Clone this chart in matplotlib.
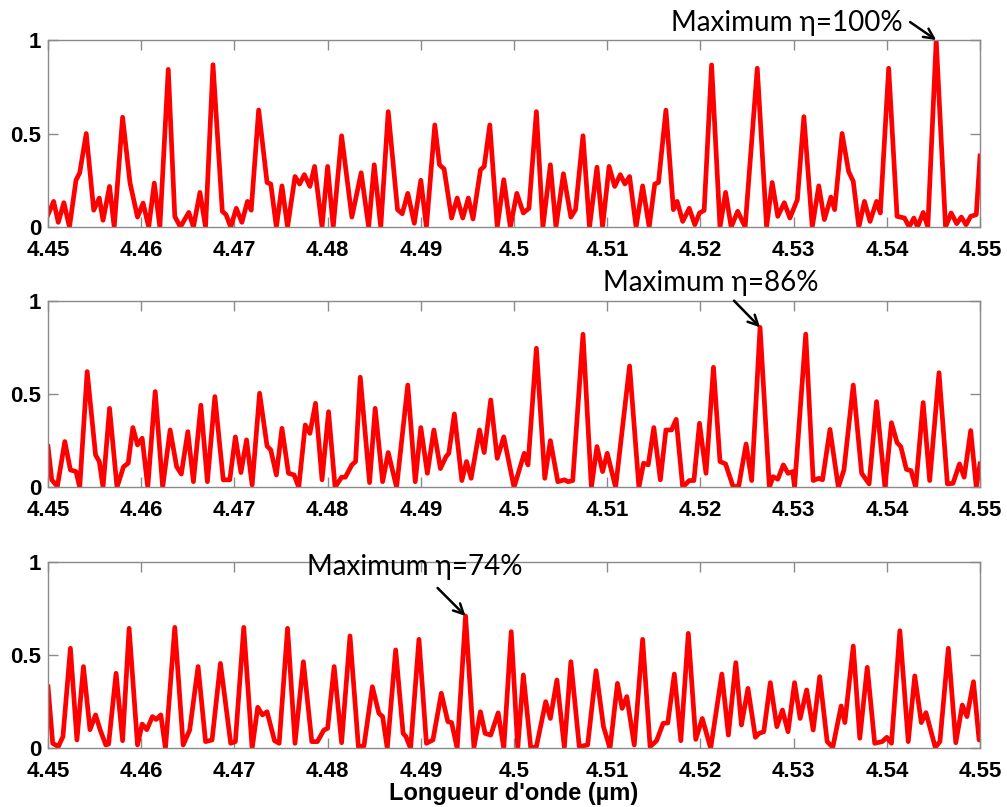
import matplotlib
matplotlib.use('Agg')
import matplotlib.pyplot as plt
import numpy as np

# wavelength (um) / efficiency
x1 = [4.4500, 4.4506, 4.4511, 4.4517, 4.4523, 4.4530, 4.4534, 4.4541, 4.4549, 4.4555,
      4.4559, 4.4566, 4.4571, 4.4580, 4.4588, 4.4596, 4.4602, 4.4608, 4.4614, 4.4620,
      4.4629, 4.4636, 4.4642, 4.4651, 4.4656, 4.4663, 4.4669, 4.4677, 4.4687, 4.4691,
      4.4696, 4.4702, 4.4708, 4.4714, 4.4718, 4.4726, 4.4735, 4.4739, 4.4745, 4.4751,
      4.4757, 4.4765, 4.4770, 4.4775, 4.4781, 4.4786, 4.4794, 4.4800, 4.4806, 4.4815,
      4.4826, 4.4836, 4.4844, 4.4850, 4.4857, 4.4865, 4.4875, 4.4880, 4.4886, 4.4893,
      4.4900, 4.4906, 4.4915, 4.4920, 4.4925, 4.4933, 4.4939, 4.4945, 4.4951, 4.4956,
      4.4964, 4.4968, 4.4974, 4.4982, 4.4989, 4.4996, 4.5003, 4.5010, 4.5016, 4.5024,
      4.5031, 4.5039, 4.5045, 4.5053, 4.5061, 4.5066, 4.5074, 4.5081, 4.5089, 4.5095,
      4.5102, 4.5108, 4.5114, 4.5119, 4.5124, 4.5131, 4.5138, 4.5145, 4.5151, 4.5155,
      4.5163, 4.5171, 4.5175, 4.5181, 4.5188, 4.5194, 4.5199, 4.5204, 4.5212, 4.5221,
      4.5227, 4.5233, 4.5240, 4.5248, 4.5261, 4.5271, 4.5277, 4.5283, 4.5290, 4.5296,
      4.5304, 4.5311, 4.5320, 4.5327, 4.5333, 4.5340, 4.5344, 4.5352, 4.5359, 4.5364,
      4.5370, 4.5376, 4.5382, 4.5389, 4.5393, 4.5402, 4.5411, 4.5419, 4.5424, 4.5429,
      4.5433, 4.5439, 4.5444, 4.5453, 4.5463, 4.5469, 4.5475, 4.5480, 4.5485, 4.5490,
      4.5496, 4.5500]
y1 = [0.066, 0.137, 0.025, 0.130, 0.000, 0.250, 0.290, 0.500, 0.090, 0.155,
      0.036, 0.217, 0.000, 0.587, 0.235, 0.053, 0.128, 0.000, 0.235, 0.000,
      0.843, 0.057, 0.000, 0.078, 0.000, 0.185, 0.000, 0.868, 0.084, 0.066,
      0.000, 0.100, 0.025, 0.137, 0.090, 0.626, 0.238, 0.230, 0.000, 0.220,
      0.000, 0.270, 0.230, 0.280, 0.217, 0.324, 0.000, 0.324, 0.000, 0.488,
      0.053, 0.290, 0.000, 0.333, 0.000, 0.617, 0.093, 0.071, 0.180, 0.020,
      0.250, 0.000, 0.546, 0.333, 0.310, 0.048, 0.155, 0.048, 0.155, 0.043,
      0.306, 0.324, 0.546, 0.000, 0.253, 0.000, 0.180, 0.075, 0.100, 0.617,
      0.000, 0.333, 0.000, 0.285, 0.053, 0.093, 0.488, 0.000, 0.320, 0.000,
      0.324, 0.217, 0.280, 0.230, 0.270, 0.000, 0.220, 0.000, 0.230, 0.238,
      0.625, 0.093, 0.137, 0.030, 0.100, 0.012, 0.075, 0.089, 0.867, 0.000,
      0.185, 0.000, 0.084, 0.000, 0.849, 0.000, 0.238, 0.057, 0.130, 0.048,
      0.146, 0.590, 0.000, 0.220, 0.040, 0.160, 0.093, 0.500, 0.297, 0.244,
      0.000, 0.137, 0.030, 0.137, 0.075, 0.849, 0.057, 0.048, 0.000, 0.048,
      0.000, 0.078, 0.000, 1.000, 0.000, 0.075, 0.018, 0.053, 0.012, 0.057,
      0.066, 0.380]

x2 = [4.4500, 4.4504, 4.4510, 4.4518, 4.4524, 4.4530, 4.4534, 4.4542, 4.4551, 4.4555,
      4.4559, 4.4566, 4.4574, 4.4581, 4.4586, 4.4591, 4.4596, 4.4601, 4.4607, 4.4615,
      4.4623, 4.4631, 4.4638, 4.4643, 4.4650, 4.4656, 4.4664, 4.4671, 4.4679, 4.4688,
      4.4695, 4.4701, 4.4707, 4.4713, 4.4719, 4.4727, 4.4735, 4.4739, 4.4745, 4.4751,
      4.4758, 4.4764, 4.4769, 4.4776, 4.4781, 4.4787, 4.4794, 4.4801, 4.4808, 4.4815,
      4.4819, 4.4826, 4.4830, 4.4835, 4.4845, 4.4851, 4.4859, 4.4865, 4.4874, 4.4886,
      4.4894, 4.4900, 4.4907, 4.4914, 4.4921, 4.4927, 4.4930, 4.4936, 4.4944, 4.4949,
      4.4954, 4.4963, 4.4968, 4.4975, 4.4982, 4.4989, 4.5000, 4.5011, 4.5015, 4.5024,
      4.5033, 4.5039, 4.5047, 4.5054, 4.5058, 4.5063, 4.5074, 4.5083, 4.5089, 4.5095,
      4.5100, 4.5109, 4.5124, 4.5134, 4.5139, 4.5144, 4.5150, 4.5157, 4.5163, 4.5169,
      4.5174, 4.5181, 4.5188, 4.5193, 4.5199, 4.5206, 4.5214, 4.5221, 4.5227, 4.5235,
      4.5241, 4.5249, 4.5255, 4.5264, 4.5274, 4.5278, 4.5283, 4.5289, 4.5294, 4.5299,
      4.5301, 4.5313, 4.5321, 4.5327, 4.5331, 4.5339, 4.5348, 4.5354, 4.5364, 4.5373,
      4.5381, 4.5389, 4.5398, 4.5405, 4.5411, 4.5415, 4.5421, 4.5426, 4.5431, 4.5439,
      4.5446, 4.5456, 4.5465, 4.5471, 4.5478, 4.5483, 4.5490, 4.5496, 4.5500]
y2 = [0.218, 0.040, 0.004, 0.245, 0.093, 0.084, 0.000, 0.620, 0.173, 0.138,
      0.000, 0.423, 0.000, 0.110, 0.129, 0.320, 0.227, 0.263, 0.000, 0.513,
      0.000, 0.307, 0.110, 0.071, 0.298, 0.030, 0.440, 0.030, 0.486, 0.040,
      0.040, 0.270, 0.079, 0.254, 0.012, 0.504, 0.221, 0.200, 0.066, 0.316,
      0.075, 0.066, 0.000, 0.334, 0.289, 0.450, 0.040, 0.405, 0.000, 0.054,
      0.054, 0.120, 0.138, 0.590, 0.025, 0.423, 0.030, 0.186, 0.000, 0.548,
      0.030, 0.320, 0.075, 0.307, 0.100, 0.164, 0.182, 0.393, 0.036, 0.138,
      0.048, 0.307, 0.186, 0.468, 0.155, 0.270, 0.000, 0.182, 0.120, 0.745,
      0.048, 0.250, 0.030, 0.040, 0.030, 0.036, 0.820, 0.000, 0.218, 0.084,
      0.182, 0.000, 0.650, 0.000, 0.129, 0.120, 0.320, 0.040, 0.307, 0.307,
      0.364, 0.000, 0.036, 0.036, 0.343, 0.075, 0.643, 0.138, 0.125, 0.004,
      0.004, 0.232, 0.036, 0.857, 0.000, 0.057, 0.043, 0.120, 0.075, 0.084,
      0.000, 0.821, 0.036, 0.048, 0.040, 0.310, 0.000, 0.093, 0.548, 0.075,
      0.018, 0.459, 0.000, 0.346, 0.239, 0.218, 0.096, 0.089, 0.000, 0.454,
      0.036, 0.614, 0.018, 0.021, 0.125, 0.054, 0.304, 0.000, 0.125]

x3 = [4.4500, 4.4505, 4.4511, 4.4516, 4.4524, 4.4531, 4.4538, 4.4545, 4.4551, 4.4556,
      4.4562, 4.4565, 4.4573, 4.4580, 4.4587, 4.4596, 4.4601, 4.4606, 4.4612, 4.4616,
      4.4621, 4.4626, 4.4636, 4.4645, 4.4652, 4.4661, 4.4669, 4.4676, 4.4685, 4.4696,
      4.4701, 4.4710, 4.4719, 4.4725, 4.4730, 4.4735, 4.4743, 4.4748, 4.4757, 4.4765,
      4.4774, 4.4783, 4.4789, 4.4796, 4.4800, 4.4807, 4.4815, 4.4824, 4.4833, 4.4839,
      4.4848, 4.4855, 4.4859, 4.4864, 4.4873, 4.4881, 4.4884, 4.4889, 4.4898, 4.4906,
      4.4913, 4.4922, 4.4929, 4.4933, 4.4939, 4.4948, 4.4957, 4.4964, 4.4969, 4.4975,
      4.4983, 4.4989, 4.4997, 4.5004, 4.5010, 4.5018, 4.5024, 4.5034, 4.5039, 4.5046,
      4.5054, 4.5061, 4.5070, 4.5079, 4.5088, 4.5096, 4.5103, 4.5111, 4.5116, 4.5121,
      4.5129, 4.5138, 4.5146, 4.5153, 4.5160, 4.5165, 4.5172, 4.5179, 4.5187, 4.5195,
      4.5202, 4.5211, 4.5223, 4.5230, 4.5238, 4.5244, 4.5251, 4.5259, 4.5263, 4.5268,
      4.5275, 4.5282, 4.5288, 4.5294, 4.5301, 4.5307, 4.5314, 4.5321, 4.5328, 4.5336,
      4.5342, 4.5351, 4.5355, 4.5364, 4.5371, 4.5379, 4.5387, 4.5395, 4.5400, 4.5405,
      4.5414, 4.5423, 4.5430, 4.5437, 4.5442, 4.5452, 4.5457, 4.5466, 4.5474, 4.5481,
      4.5486, 4.5493, 4.5499, 4.5500]
y3 = [0.330, 0.027, 0.009, 0.063, 0.536, 0.045, 0.438, 0.100, 0.179, 0.098,
      0.018, 0.023, 0.402, 0.041, 0.643, 0.018, 0.130, 0.100, 0.170, 0.155,
      0.179, 0.000, 0.648, 0.018, 0.098, 0.438, 0.036, 0.045, 0.455, 0.027,
      0.036, 0.648, 0.000, 0.220, 0.179, 0.196, 0.041, 0.027, 0.643, 0.027,
      0.464, 0.036, 0.036, 0.098, 0.107, 0.438, 0.030, 0.602, 0.009, 0.013,
      0.330, 0.188, 0.170, 0.000, 0.527, 0.080, 0.063, 0.000, 0.584, 0.027,
      0.045, 0.295, 0.143, 0.138, 0.000, 0.709, 0.005, 0.196, 0.080, 0.071,
      0.190, 0.000, 0.625, 0.000, 0.393, 0.000, 0.009, 0.250, 0.160, 0.366,
      0.005, 0.464, 0.009, 0.018, 0.416, 0.116, 0.000, 0.348, 0.214, 0.277,
      0.018, 0.584, 0.009, 0.041, 0.134, 0.136, 0.398, 0.041, 0.616, 0.048,
      0.160, 0.000, 0.398, 0.071, 0.459, 0.125, 0.321, 0.059, 0.080, 0.089,
      0.352, 0.116, 0.205, 0.089, 0.352, 0.160, 0.313, 0.098, 0.384, 0.036,
      0.005, 0.227, 0.138, 0.548, 0.054, 0.434, 0.027, 0.036, 0.059, 0.027,
      0.630, 0.036, 0.388, 0.138, 0.191, 0.005, 0.036, 0.536, 0.030, 0.232,
      0.170, 0.357, 0.045, 0.045]

labels = ['Maximum \u03b7=100%', 'Maximum \u03b7=86%', 'Maximum \u03b7=74%']
xticks = [4.45, 4.46, 4.47, 4.48, 4.49, 4.5, 4.51, 4.52, 4.53, 4.54, 4.55]
yticks = [0, 0.5, 1]

fig = plt.figure(figsize=(10.07, 8.07), dpi=100)
rects = [[0.0477, 0.7187, 0.9255, 0.2317],
         [0.0477, 0.3962, 0.9255, 0.2312],
         [0.0477, 0.0727, 0.9255, 0.2313]]
# text centre and arrow tail for each label (data coords)
txt_pos = [(4.5293, 1.09), (4.5211, 1.095), (4.4894, 0.972)]
tail_pos = [(4.5425, 1.096), (4.5236, 1.0), (4.4918, 0.859)]

series = [(x1, y1), (x2, y2), (x3, y3)]
spine_col = '#8a8a8a'
for i, (xs, ys) in enumerate(series):
    ax = fig.add_axes(rects[i])
    ax.plot(xs, ys, color='#ff0000', lw=3.4, solid_joinstyle='round')
    ax.set_xlim(4.45, 4.55)
    ax.set_ylim(0, 1)
    ax.set_xticks(xticks)
    ax.set_xticklabels(['%g' % t for t in xticks])
    ax.set_yticks(yticks)
    ax.set_yticklabels(['%g' % t for t in yticks])
    ax.tick_params(direction='in', length=7, width=1, color=spine_col,
                   top=True, right=True)
    ax.tick_params(axis='x', pad=9)
    ax.tick_params(axis='y', pad=5)
    for lab in ax.get_xticklabels() + ax.get_yticklabels():
        lab.set_fontfamily('Liberation Sans')
        lab.set_fontweight('bold')
        lab.set_fontsize(16)
    for sp in ax.spines.values():
        sp.set_color(spine_col)
        sp.set_linewidth(1)
    k = int(np.argmax(ys))
    ax.annotate('', xy=(xs[k], ys[k]), xytext=tail_pos[i],
                arrowprops=dict(arrowstyle='->', color='black', lw=1.8,
                                mutation_scale=18, shrinkA=0, shrinkB=0),
                annotation_clip=False)
    ax.text(txt_pos[i][0], txt_pos[i][1], labels[i], ha='center', va='center',
            fontsize=20, family='Lato', color='black', clip_on=False)
    if i == 2:
        ax.set_xlabel("Longueur d'onde (\u00b5m)", fontsize=17, fontweight='bold',
                      family='Liberation Sans', labelpad=0)

fig.savefig('out.png', dpi=100)
